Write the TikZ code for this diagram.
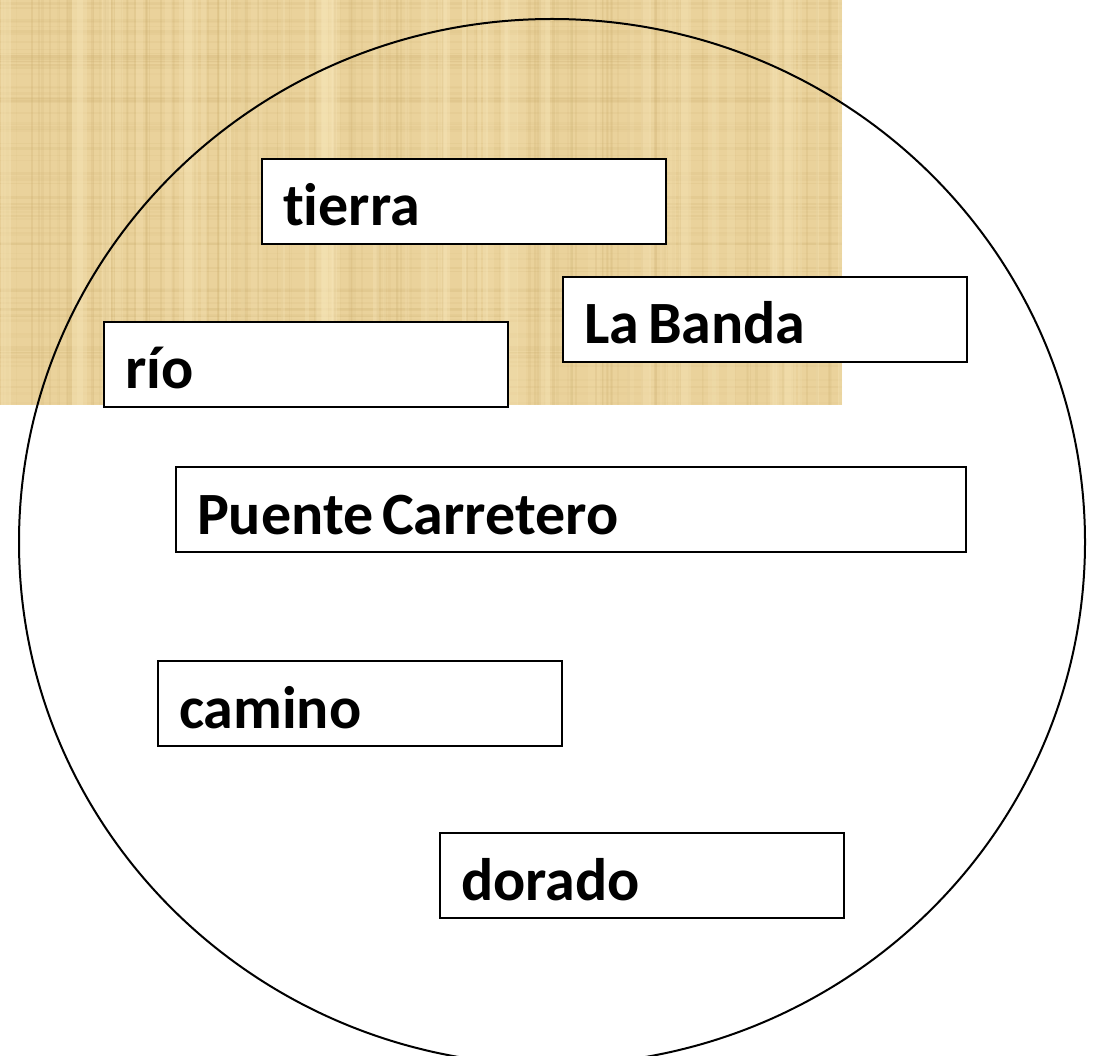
\documentclass[tikz,border=0pt]{standalone}
\usepackage{fontspec}
\setmainfont[Ligatures={NoCommon}]{Carlito}
\newcommand\wordfont{\fontsize{60}{64}\selectfont\bfseries\fontdimen2\font=9pt\relax}
\newcommand\shortword[1]{\makebox[362pt][l]{#1}}
\newcommand\longword[1]{\makebox[748pt][l]{#1}}
\definecolor{papyrus}{RGB}{234,210,155}
\definecolor{papyrusdark}{RGB}{200,170,105}
\definecolor{papyruslight}{RGB}{247,230,185}
\tikzset{
  wordbox/.style={draw=black, line width=2pt, fill=white, anchor=north west,
    minimum height=85pt, inner xsep=21pt, inner ysep=0pt,
    text height=49pt, text depth=0pt,
    font=\wordfont},
  ring/.style={draw=black, line width=2pt}
}
\begin{document}
\begin{tikzpicture}[x=1pt,y=-1pt]
\useasboundingbox (0,0) rectangle (1106,1056);
\clip (0,0) rectangle (1106,1056);
% papyrus texture
\fill[papyrus] (0,0) rectangle (842,405);
\begin{scope}
\clip (0,0) rectangle (842,405);
\pgfmathsetseed{7}
\foreach \i in {0,...,140}{
  \pgfmathsetmacro{\xx}{rnd*842}
  \pgfmathsetmacro{\op}{0.06+rnd*0.14}
  \pgfmathsetmacro{\ww}{1+rnd*2}
  \draw[papyrusdark, opacity=\op, line width=\ww pt] (\xx,0) -- (\xx,405);
}
\foreach \i in {0,...,90}{
  \pgfmathsetmacro{\yy}{rnd*405}
  \pgfmathsetmacro{\op}{0.05+rnd*0.12}
  \pgfmathsetmacro{\ww}{1+rnd*2}
  \draw[papyrusdark, opacity=\op, line width=\ww pt] (0,\yy) -- (842,\yy);
}
\foreach \i in {0,...,60}{
  \pgfmathsetmacro{\xx}{rnd*842}
  \pgfmathsetmacro{\op}{0.15+rnd*0.25}
  \pgfmathsetmacro{\ww}{3+rnd*10}
  \draw[papyruslight, opacity=\op, line width=\ww pt] (\xx,0) -- (\xx,405);
}
\end{scope}
% circle
\draw[ring] (552,542) ellipse [x radius=533, y radius=523];
% word boxes
\node[wordbox, minimum width=404pt] (tierra) at (261,158) {\shortword{tierra}};
\node[wordbox, minimum width=404pt] (banda) at (562,276) {\shortword{La Banda}};
\node[wordbox, minimum width=404pt] (rio) at (103,321) {\shortword{río}};
\node[wordbox, minimum width=790pt] (puente) at (175,466) {\longword{Puente Carretero}};
\node[wordbox, minimum width=404pt] (camino) at (157,660) {\shortword{camino}};
\node[wordbox, minimum width=404pt] (dorado) at (439,832) {\shortword{dorado}};
\end{tikzpicture}
\end{document}
